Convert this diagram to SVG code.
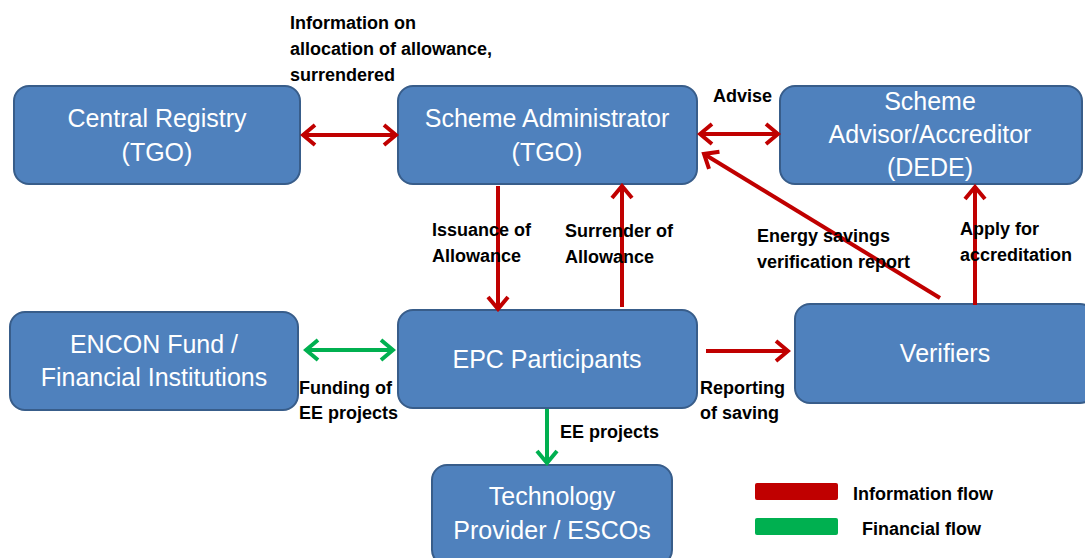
<svg xmlns="http://www.w3.org/2000/svg" width="1085" height="558" viewBox="0 0 1085 558">
<style>
.box{fill:#4F81BD;stroke:#385D8A;stroke-width:2}
.bt{font-family:"Liberation Sans",Arial,sans-serif;font-size:25px;fill:#fff;text-anchor:middle}
.lb{font-family:"Liberation Sans",Arial,sans-serif;font-size:18px;font-weight:bold;fill:#000}
.red{stroke:#C00000;stroke-width:4;fill:none}
.grn{stroke:#00B050;stroke-width:4;fill:none}
</style>
<defs>
<marker id="ar" markerUnits="userSpaceOnUse" markerWidth="20" markerHeight="26" viewBox="0 0 20 26" refX="17" refY="13" orient="auto-start-reverse">
<path d="M5,3 L17,13 L5,23" fill="none" stroke="#C00000" stroke-width="4" stroke-linejoin="miter"/>
</marker>
<marker id="ag" markerUnits="userSpaceOnUse" markerWidth="20" markerHeight="26" viewBox="0 0 20 26" refX="17" refY="13" orient="auto-start-reverse">
<path d="M5,3 L17,13 L5,23" fill="none" stroke="#00B050" stroke-width="4" stroke-linejoin="miter"/>
</marker>
</defs>
<rect width="1085" height="558" fill="#fff"/>
<g id="central-registry">
<rect class="box" x="14" y="86" width="286" height="98" rx="15"/>
<text class="bt" x="157" y="127">Central Registry</text>
<text class="bt" x="157" y="161">(TGO)</text>
</g>
<g id="scheme-administrator">
<rect class="box" x="398" y="86" width="299" height="98" rx="15"/>
<text class="bt" x="547" y="127">Scheme Administrator</text>
<text class="bt" x="547" y="161">(TGO)</text>
</g>
<g id="scheme-advisor">
<rect class="box" x="780" y="86" width="302" height="98" rx="15"/>
<text class="bt" x="930" y="110">Scheme</text>
<text class="bt" x="930" y="143">Advisor/Accreditor</text>
<text class="bt" x="930" y="176">(DEDE)</text>
</g>
<g id="encon-fund">
<rect class="box" x="10" y="312" width="288" height="98" rx="15"/>
<text class="bt" x="154" y="353">ENCON Fund /</text>
<text class="bt" x="154" y="386">Financial Institutions</text>
</g>
<g id="epc-participants">
<rect class="box" x="398" y="310" width="299" height="98" rx="15"/>
<text class="bt" x="547" y="368">EPC Participants</text>
</g>
<g id="verifiers">
<rect class="box" x="795" y="304" width="300" height="99" rx="15"/>
<text class="bt" x="945" y="362">Verifiers</text>
</g>
<g id="technology-provider">
<rect class="box" x="432" y="465" width="240" height="100" rx="15"/>
<text class="bt" x="552" y="505">Technology</text>
<text class="bt" x="552" y="539">Provider / ESCOs</text>
</g>
<g id="connectors">
<line class="red" x1="303" y1="135" x2="396" y2="135" marker-start="url(#ar)" marker-end="url(#ar)"/>
<line class="red" x1="700" y1="134" x2="778" y2="134" marker-start="url(#ar)" marker-end="url(#ar)"/>
<line class="red" x1="498" y1="186" x2="498" y2="309" marker-end="url(#ar)"/>
<line class="red" x1="622" y1="307" x2="622" y2="186" marker-end="url(#ar)"/>
<line class="red" x1="940" y1="298" x2="704" y2="154" marker-end="url(#ar)"/>
<line class="red" x1="975" y1="305" x2="975" y2="187" marker-end="url(#ar)"/>
<line class="grn" x1="306" y1="350" x2="393" y2="350" marker-start="url(#ag)" marker-end="url(#ag)"/>
<line class="red" x1="706" y1="351" x2="788" y2="351" marker-end="url(#ar)"/>
<line class="grn" x1="547" y1="409" x2="547" y2="463" marker-end="url(#ag)"/>
</g>
<g id="labels">
<text class="lb" x="290" y="29">Information on</text>
<text class="lb" x="290" y="55">allocation of allowance,</text>
<text class="lb" x="290" y="81">surrendered</text>
<text class="lb" x="713" y="102">Advise</text>
<text class="lb" x="432" y="236">Issuance of</text>
<text class="lb" x="432" y="262">Allowance</text>
<text class="lb" x="565" y="237">Surrender of</text>
<text class="lb" x="565" y="263">Allowance</text>
<text class="lb" x="757" y="242">Energy savings</text>
<text class="lb" x="757" y="268">verification report</text>
<text class="lb" x="960" y="235">Apply for</text>
<text class="lb" x="960" y="261">accreditation</text>
<text class="lb" x="299" y="394">Funding of</text>
<text class="lb" x="299" y="419">EE projects</text>
<text class="lb" x="700" y="394">Reporting</text>
<text class="lb" x="700" y="419">of saving</text>
<text class="lb" x="560" y="438">EE projects</text>
</g>
<g id="legend">
<rect x="755" y="483" width="83" height="17" rx="2" fill="#C00000"/>
<rect x="755" y="518" width="83" height="17" rx="2" fill="#00B050"/>
<text class="lb" x="853" y="500">Information flow</text>
<text class="lb" x="862" y="535">Financial flow</text>
</g>
</svg>
